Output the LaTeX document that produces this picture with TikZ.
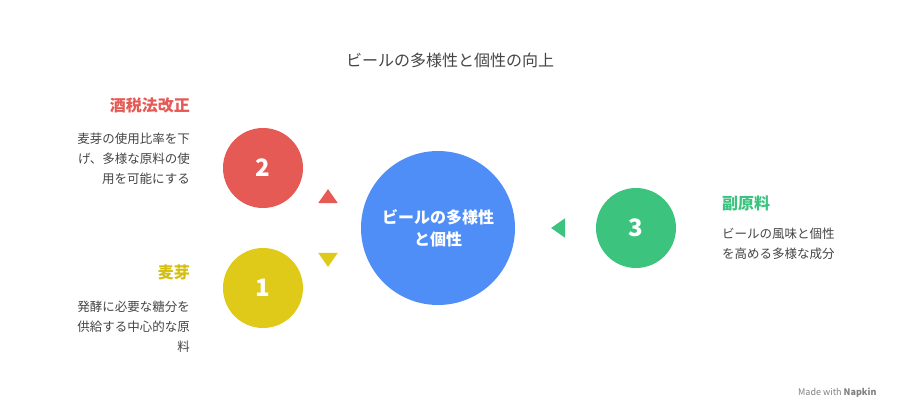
\documentclass[tikz,border=0pt]{standalone}
\usetikzlibrary{shapes.geometric}
\usepackage{fontspec}
\setmainfont{Noto Sans CJK JP}
\definecolor{cblue}{HTML}{4F8EF7}
\definecolor{cred}{HTML}{E55A55}
\definecolor{cyel}{HTML}{DFC919}
\definecolor{cyelt}{HTML}{D4BE10}
\definecolor{cgreen}{HTML}{3CC47F}
\definecolor{ctext}{HTML}{444444}
\begin{document}
\begin{tikzpicture}[x=1pt,y=-1pt,
  num/.style={circle,minimum size=80pt,inner sep=0pt,text=white,font=\fontsize{24}{24}\selectfont\bfseries},
  head/.style={font=\fontsize{16}{18}\selectfont\bfseries,inner sep=0pt},
  desc/.style={font=\fontsize{12.5}{20}\selectfont,text=ctext,inner sep=0pt,align=right},
  tri/.style={isosceles triangle,isosceles triangle apex angle=70,minimum size=14pt,inner sep=0pt}]
\useasboundingbox (0,0) rectangle (900,420);
\node[font=\fontsize{16}{18}\selectfont,text=ctext] (title) at (450,60) {ビールの多様性と個性の向上};
\node[circle,fill=cblue,minimum size=154pt,inner sep=0pt,text=white,align=center,font=\fontsize{16}{22}\selectfont\bfseries] (c) at (438,228) {ビールの多様性\\と個性};
\node[num,fill=cred] (n2) at (263,168) {2};
\node[num,fill=cyel] (n1) at (263,288) {1};
\node[num,fill=cgreen] (n3) at (636,228) {3};
\node[tri,fill=cred,shape border rotate=90] (t2) at (328,198) {};
\node[tri,fill=cyel,shape border rotate=-90] (t1) at (328,258) {};
\node[tri,fill=cgreen,shape border rotate=180] (t3) at (560,228) {};
\node[head,text=cred,anchor=east] (h2) at (190,105) {酒税法改正};
\node[desc,anchor=north east] (d2) at (190,133) {麦芽の使用比率を下\\げ、多様な原料の使\\用を可能にする};
\node[head,text=cyelt,anchor=east] (h1) at (190,272) {麦芽};
\node[desc,anchor=north east] (d1) at (190,301) {発酵に必要な糖分を\\供給する中心的な原\\料};
\node[head,text=cgreen,anchor=west] (h3) at (722,203) {副原料};
\node[desc,align=left,anchor=north west] (d3) at (722,228) {ビールの風味と個性\\を高める多様な成分};
\node[font=\fontsize{9}{10}\selectfont,text=gray,anchor=east] (mk) at (880,393) {Made with \textbf{Napkin}};
\end{tikzpicture}
\end{document}
